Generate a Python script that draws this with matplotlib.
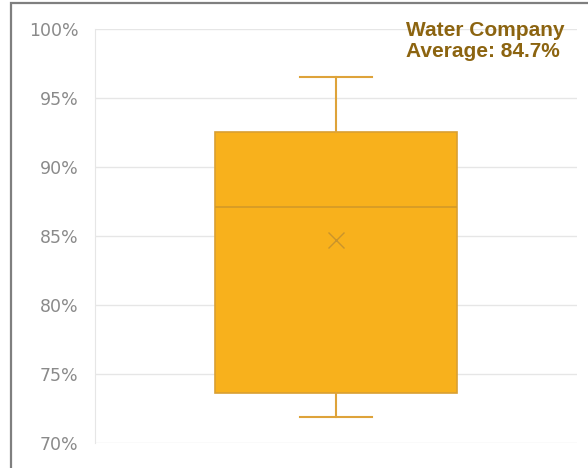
import matplotlib.pyplot as plt
from matplotlib.patches import Rectangle
from matplotlib.ticker import FuncFormatter

plt.rcParams['font.family'] = ['Liberation Sans', 'DejaVu Sans']

# summary of the water company scores (%)
label = "Water Company"
whisker_low = 71.9
q1 = 73.6
median = 87.1
q3 = 92.55
whisker_high = 96.5
mean = 84.7

fig = plt.figure(figsize=(5.88, 4.68), dpi=100)

# outer frame of the chart
fig.patches.append(Rectangle((11 / 588, -0.1), 1.2, 1 - 3 / 468 + 0.1,
                             transform=fig.transFigure, fill=False,
                             edgecolor='#7f7f7f', linewidth=1.6))

ax = fig.add_axes([95 / 588, 1 - 443 / 468, (577 - 95) / 588, (443 - 29) / 468])

stats = [dict(label=label, whislo=whisker_low, q1=q1, med=median, q3=q3,
              whishi=whisker_high, mean=mean, fliers=[])]
ax.bxp(stats, positions=[1], widths=0.504, capwidths=0.15, showmeans=True,
       patch_artist=True,
       boxprops=dict(facecolor='#f8b11c', edgecolor='#d9a032', linewidth=1.2),
       medianprops=dict(color='#d39a28', linewidth=1.2),
       whiskerprops=dict(color='#dea33a', linewidth=1.5),
       capprops=dict(color='#dea33a', linewidth=1.5),
       meanprops=dict(marker='x', markeredgecolor='#c9942c', markersize=11,
                      markeredgewidth=1.0))

ax.set_xlim(0.5, 1.5)
ax.set_ylim(70, 100)
ax.set_yticks(range(70, 101, 5))
ax.yaxis.set_major_formatter(FuncFormatter(lambda v, _: f"{v:.0f}%"))
ax.set_xticks([])
ax.tick_params(axis='y', length=0, pad=12, labelsize=12.5, labelcolor='#8a8a8a')
for lbl in ax.get_yticklabels():
    lbl.set_family('DejaVu Sans')

ax.grid(axis='y', color='#e6e6e6', linewidth=1)
ax.set_axisbelow(True)
for side in ['top', 'right', 'bottom']:
    ax.spines[side].set_visible(False)
ax.spines['left'].set_color('#e6e6e6')

fig.text(406 / 588, 1 - 21 / 468, f"{label}\nAverage: {mean}%", ha='left', va='top',
         fontsize=15, fontweight='bold', color='#8c6410', linespacing=1.15)

fig.savefig('out.png', dpi=100)
